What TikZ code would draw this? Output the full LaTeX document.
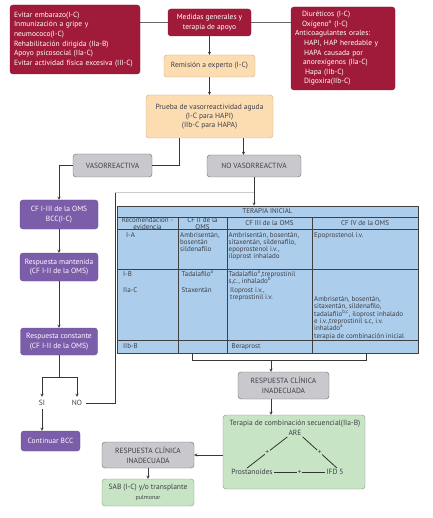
\documentclass[tikz,border=0pt]{standalone}
\usepackage{fontspec}
\setmainfont{PT Sans}
\usetikzlibrary{arrows}

\definecolor{granate}{RGB}{160,26,58}
\definecolor{melocoton}{RGB}{252,221,178}
\definecolor{gris}{RGB}{201,201,205}
\definecolor{morado}{RGB}{123,93,170}
\definecolor{azul}{RGB}{172,206,236}
\definecolor{verde}{RGB}{199,229,197}
\definecolor{tinta}{RGB}{62,62,70}
\definecolor{linea}{RGB}{55,55,58}

\newcommand{\letra}{\fontsize{7.5}{9.6}\selectfont}
\newcommand{\letratabla}{\fontsize{7}{7}\selectfont}
\newcommand{\supind}[1]{\smash{\textsuperscript{#1}}}

\begin{document}
\begin{tikzpicture}[->, >=stealth, x=1pt, y=-1pt, font=\letra, draw=linea,
  red node/.style={draw=granate!85!black, fill=granate, text=white, rounded corners=3pt, inner sep=0pt},
  peach node/.style={draw=brown!70, fill=melocoton, text=tinta, rounded corners=3pt, inner sep=0pt},
  gray node/.style={draw=black!60, fill=gris, text=tinta, rounded corners=3pt, inner sep=0pt},
  purple node/.style={draw=morado!85!black, fill=morado, text=white, rounded corners=3pt, inner sep=0pt},
  green node/.style={draw=black!45, fill=verde, text=tinta, rounded corners=3pt, inner sep=0pt},
  cell/.style={inner sep=0pt, align=left, anchor=north west, font=\letratabla, text=tinta},
  tabla/.style={draw=black!75, line width=0.6pt}]
\useasboundingbox (0,0) rectangle (432,518);

% arriba
\node[red node, minimum width=130pt, minimum height=69pt, text width=122pt, align=left] (cuidados) at (75,39.5)
  {Evitar embarazo(I-C)\\Inmunización a gripe y\\neumococo(I-C)\\Rehabilitación dirigida (IIa-B)\\Apoyo psicosocial (IIa-C)\\Evitar actividad física excesiva (III-C)};
\node[red node, minimum width=83pt, minimum height=27pt, align=center] (medidas) at (209.5,22.5)
  {Medidas generales y\\terapia de apoyo};
\node[red node, minimum width=104pt, minimum height=83pt, text width=96pt, align=left] (apoyo) at (343,48.5)
  {\hspace*{7pt}Diuréticos (I-C)\\\hspace*{7pt}Oxígeno\textsuperscript{a} (I-C)\\Anticoagulantes orales:\\\hspace*{9pt}HAPI, HAP heredable y\\\hspace*{9pt}HAPA causada por\\\hspace*{8pt}anorexígenos (IIa-C)\\\hspace*{10pt}Hapa (IIb-C)\\\hspace*{9pt}Digoxira(IIb-C)};
\node[peach node, minimum width=91pt, minimum height=22pt] (remision) at (209.5,66) {Remisión a experto (I-C)};
\node[peach node, minimum width=127pt, minimum height=43pt, align=center, font=\fontsize{7.5}{9.2}\selectfont] (prueba) at (209.5,116.5)
  {Prueba de vasorreactividad aguda\\(I-C para HAPI)\\(IIb-C para HAPA)};
\node[gray node, minimum width=79pt, minimum height=23pt] (vaso) at (112.5,165.5) {VASORREACTIVA};
\node[gray node, minimum width=94pt, minimum height=22pt] (novaso) at (254,166) {NO VASORREACTIVA};

% izquierda
\node[purple node, minimum width=78pt, minimum height=29pt, align=center] (cf) at (59,214.5) {CF I-III de la OMS\\BCC(I-C)};
\node[purple node, minimum width=78pt, minimum height=28pt, align=center] (mantenida) at (59,267) {Respuesta mantenida\\(CF I-II de la OMS)};
\node[purple node, minimum width=77pt, minimum height=27pt, align=center] (constante) at (59,341.5) {Respuesta constante\\(CF I-II de la OMS)};
\node[text=tinta] (si) at (42,403) {SI};
\node[text=tinta] (no) at (77,403) {NO};
\node[purple node, minimum width=59pt, minimum height=20pt] (continuar) at (50.5,441) {Continuar BCC};

% terapia inicial
\fill[azul] (117,217) rectangle (418,353);
\draw[-, tabla] (117,217) rectangle (418,353);
\draw[-, tabla] (117,229.5) -- (418,229.5) (117,269) -- (418,269) (117,340.5) -- (418,340.5);
\foreach \x in {178,227,312}
  \draw[-, tabla] (\x,217) -- (\x,353);
\node[tabla, fill=azul, minimum width=301pt, minimum height=11pt, inner sep=0pt, font=\letratabla, text=tinta] (inicial) at (267.5,211.5) {TERAPIA INICIAL};
\node[cell, anchor=center, align=center] at (147.5,223.2) {Recomendación -\\evidencia};
\node[cell, anchor=center, align=center] at (202.5,223.2) {CF II de la\\OMS};
\node[cell, anchor=center] at (269.5,223.2) {CF III de la OMS};
\node[cell, anchor=center] at (365,223.2) {CF IV de la OMS};
\node[cell] at (126,232.5) {I-A};
\node[cell] at (180,232.5) {Ambrisentán,\\bosentán\\sildenafilo};
\node[cell] at (228.5,232.5) {Ambrisentán, bosentán,\\sitaxentán, sildenafilo,\\epoprostenol i.v.,\\iloprost inhalado};
\node[cell] at (314,232.5) {Epoprostenol i.v.};
\node[cell] at (123,271) {I-B};
\node[cell] at (181.5,271) {Tadalafilo\supind{a}};
\node[cell] at (228.5,271) {Tadalafilo\supind{a},treprostinil\\s,c., inhalado\supind{b}};
\node[cell] at (123,287.5) {IIa-C};
\node[cell] at (181.5,287.5) {Staxentán};
\node[cell] at (230,287.5) {Iloprost i.v.,\\treprostinil i.v.};
\node[cell, font=\fontsize{7}{7.4}\selectfont] at (314,296) {Ambrisetán, bosentán,\\sitaxentán, sildenafilo,\\tadalafilo\supind{b,c}, iloprost inhalado\\e i.v.,treprostinil s.c, i.v.\\inhalado\supind{a}\\terapia de combinación inicial};
\node[cell] at (123,343.5) {IIb-B};
\node[cell] at (231.5,343.5) {Beraprost};
\draw[-] (192,353) |- (366,360) -- (366,353);
\coordinate (llave) at (271,360);

% abajo
\node[gray node, minimum width=91pt, minimum height=27pt, align=center] (respuesta) at (283.5,385.5) {RESPUESTA CLÍNICA\\INADECUADA};
\node[green node, minimum width=142pt, minimum height=74pt] (combinacion) at (294,452) {};
\node[text=tinta, inner sep=0pt] (titulo) at (295,424) {Terapia de combinación secuencial(IIa-B)};
\node[text=tinta, inner sep=1pt] (are) at (295,433) {ARE};
\node[text=tinta, inner sep=1pt] (prost) at (252,472) {Prostanoides};
\node[text=tinta, inner sep=1pt] (ifd) at (335,472) {IFD 5};
\node[gray node, minimum width=92pt, minimum height=26pt, align=center] (respizq) at (148,455) {RESPUESTA CLÍNICA\\INADECUADA};
\node[green node, minimum width=92pt, minimum height=27pt, align=center] (sab) at (148,492.5) {SAB (I-C) y/o transplante\\{\fontsize{6}{7}\selectfont pulmonar}};

\path
(medidas)  edge[-, thick, black!60] (medidas.west -| cuidados.east)
(medidas)  edge[-, thick, black!60] (medidas.east -| apoyo.west)
(medidas)  edge (remision)
(remision) edge (prueba)
([xshift=34pt]prueba.south) edge ([xshift=34pt]prueba.south |- novaso.north)
(novaso)   edge (novaso.south |- inicial.north)
(cf)       edge (mantenida)
(mantenida) edge (constante)
(si.south) edge (si.south |- continuar.north)
(llave)    edge (llave |- respuesta.north)
(llave |- respuesta.south) edge (llave |- combinacion.north)
(combinacion.west |- respizq.east) edge (respizq)
(respizq)  edge (sab)
;
\draw[-, thick] ([xshift=-30.5pt]prueba.south) |- (vaso.east);
\draw (vaso.west) -| (cf.north);
\coordinate (split) at (59,377);
\draw[-] (constante.south) -- (split);
\draw (split) -| (si.north);
\draw (split) -| (no.north);
\coordinate (esquina) at (115,192);
\draw[-, thick] (no.east) -| (esquina);
\draw[-, black!20] (esquina) -- (esquina -| novaso.south);
\draw[-, thick, black!80] (are.south west) -- node[fill=verde, inner sep=0.5pt, text=tinta] {+} ([xshift=-5pt]prost.north);
\draw[-, thick, black!80] (are.south east) -- node[fill=verde, inner sep=0.5pt, text=tinta] {+} ([xshift=2pt]ifd.north);
\draw[-, thick, black!80] (prost.east) -- node[fill=verde, inner sep=0.5pt, text=tinta] {+} (ifd.west);
\end{tikzpicture}
\end{document}
